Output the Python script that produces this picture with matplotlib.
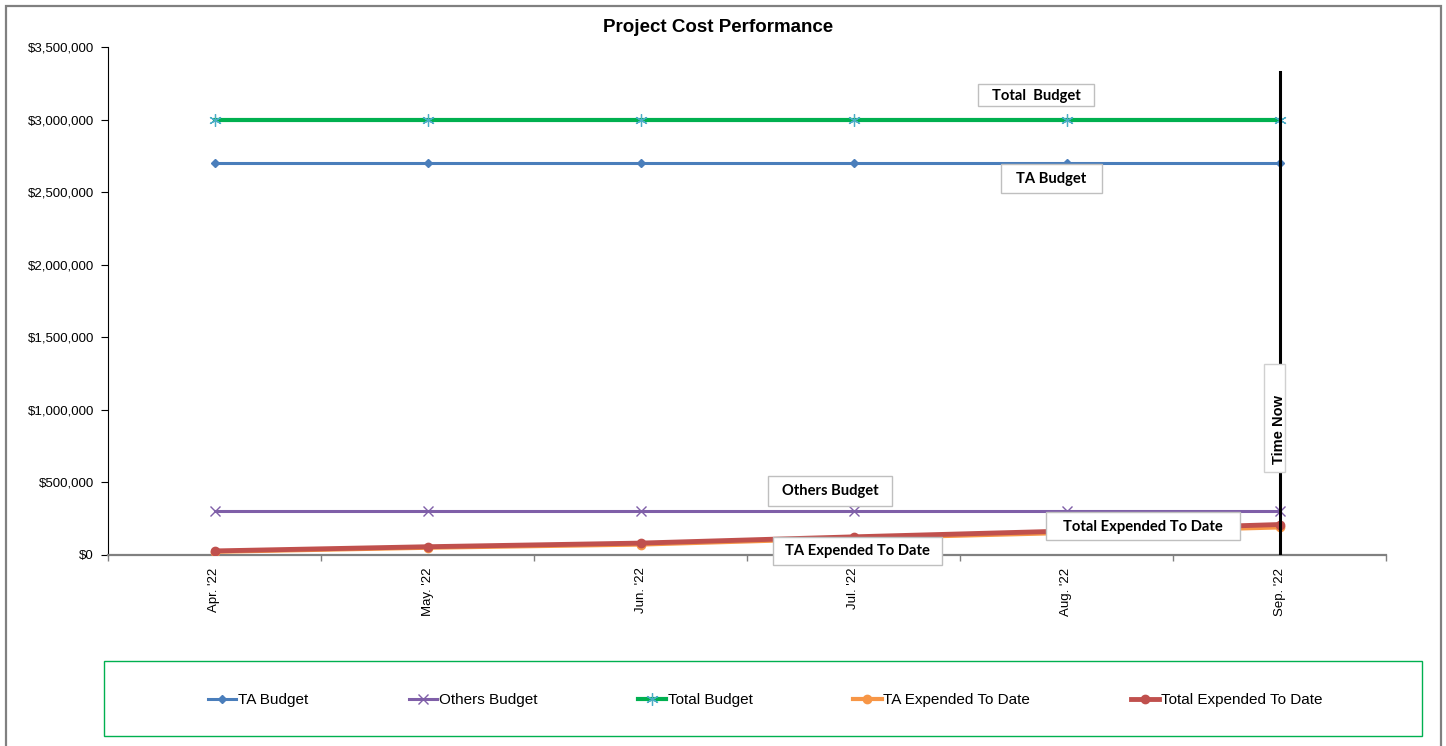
import matplotlib
matplotlib.use("Agg")
import matplotlib.pyplot as plt
from matplotlib.patches import Rectangle
from matplotlib.ticker import FuncFormatter, MultipleLocator, FixedLocator
import numpy as np

months = ["Apr. '22", "May. '22", "Jun. '22", "Jul. '22", "Aug. '22", "Sep. '22"]
ta_budget = [2700000, 2700000, 2700000, 2700000, 2700000, 2700000]
others_budget = [300000, 300000, 300000, 300000, 300000, 300000]
total_budget = [3000000, 3000000, 3000000, 3000000, 3000000, 3000000]
ta_expended = [22000, 50000, 72000, 115000, 152000, 190000]
total_expended = [28000, 57000, 82000, 125000, 165000, 210000]
time_now_month = "Sep. '22"

plt.rcParams['font.family'] = ['Liberation Sans', 'DejaVu Sans']

W, H = 1446, 746
AX_L, AX_R, AX_T, AX_B = 108, 1386, 47, 555
YMAX = 3500000

fig = plt.figure(figsize=(W / 100, H / 100), dpi=100)
ax = fig.add_axes([AX_L / W, 1 - AX_B / H, (AX_R - AX_L) / W, (AX_B - AX_T) / H])

x = np.arange(len(months))

ax.plot(x, ta_budget, color="#4A7EBB", lw=2.2, marker="D", ms=4.5, label="TA Budget", zorder=3)
ax.plot(x, others_budget, color="#7F5FA8", lw=2.2, marker="x", ms=7, mew=1.0, label="Others Budget", zorder=3)
ax.plot(x, total_budget, color="#00B050", lw=3.0, marker=(6, 2, 0), ms=9, mew=0.9,
        mec="#4BACC6", label="Total Budget", zorder=3)
ax.plot(x, ta_expended, color="#F79646", lw=3.0, marker="o", ms=6, label="TA Expended To Date", zorder=4)
ax.plot(x, total_expended, color="#C0504D", lw=3.5, marker="o", ms=6, label="Total Expended To Date", zorder=5)

# vertical marker for the current month
tn = months.index(time_now_month)
ax.plot([tn, tn], [0, 3330000], color="black", lw=2.2, zorder=6)

ax.set_xlim(-0.5, len(months) - 0.5)
ax.set_ylim(0, YMAX)

ax.yaxis.set_major_locator(MultipleLocator(500000))
ax.yaxis.set_major_formatter(FuncFormatter(lambda v, p: "$0" if v == 0 else "${:,.0f}".format(v)))
ax.tick_params(axis="y", direction="out", length=5, width=0.8, labelsize=9.5, pad=5)

ax.set_xticks(x)
ax.set_xticklabels(months, rotation=90, fontsize=9.5)
ax.xaxis.set_minor_locator(FixedLocator(np.arange(-0.5, len(months) + 0.5, 1.0)))
ax.tick_params(axis="x", which="major", length=0, pad=9)
ax.tick_params(axis="x", which="minor", direction="out", length=4, width=1, color="#808080")

for s in ["top", "right"]:
    ax.spines[s].set_visible(False)
ax.spines["left"].set_linewidth(0.8)
ax.spines["bottom"].set_color("#808080")
ax.spines["bottom"].set_linewidth(1.6)

fig.text(718 / W, 1 - 28 / H, "Project Cost Performance", fontsize=13.5, fontweight="bold",
         ha="center", va="center")


# pixel helpers for the callout boxes
def px_x(px):
    return (px - AX_L) / (AX_R - AX_L) * len(months) - 0.5


def px_y(py):
    return (AX_B - py) / (AX_B - AX_T) * YMAX


def callout(text, box, center, **kw):
    x0, y0, x1, y1 = box
    ax.add_patch(Rectangle((px_x(x0), px_y(y1)), px_x(x1) - px_x(x0), px_y(y0) - px_y(y1),
                           fc="white", ec=kw.pop("ec", "#BFBFBF"), lw=1, zorder=7, clip_on=False))
    ax.text(px_x(center[0]), px_y(center[1]), text, ha="center", va="center", zorder=8,
            clip_on=False, **kw)


lab_font = dict(family=["Lato", "DejaVu Sans"], fontweight="bold", fontsize=10.6)
callout("Total  Budget", (978, 84, 1094, 106), (1036, 96), **lab_font)
callout("TA Budget", (1001, 164, 1102, 193), (1051, 179), **lab_font)
callout("Others Budget", (768, 476, 892, 506), (830, 491), **lab_font)
callout("TA Expended To Date", (773, 537, 942, 565), (857, 551), **lab_font)
callout("Total Expended To Date", (1046, 512, 1240, 540), (1143, 527), **lab_font)
callout("Time Now", (1264, 364, 1285, 472), (1279, 430), rotation=90, fontsize=10.5, fontweight="bold",
        ec="#D0D0D0")

# legend with its own green frame
handles, labels = ax.get_legend_handles_labels()
fig.legend(handles, labels, loc="center", bbox_to_anchor=(765 / W, 1 - 700 / H), ncol=5, frameon=False,
           fontsize=11, handlelength=1.85, handletextpad=0.1, columnspacing=6.6)
fig.add_artist(Rectangle((104 / W, 1 - 736 / H), (1422 - 104) / W, (736 - 661) / H, transform=fig.transFigure,
                         fill=False, ec="#00B050", lw=1))

# outer chart frame
fig.add_artist(Rectangle((6 / W, -0.05), (1441 - 6) / W, 1.05 - 6 / H, transform=fig.transFigure,
                         fill=False, ec="#808080", lw=1.6))

fig.savefig("out.png", dpi=100)
